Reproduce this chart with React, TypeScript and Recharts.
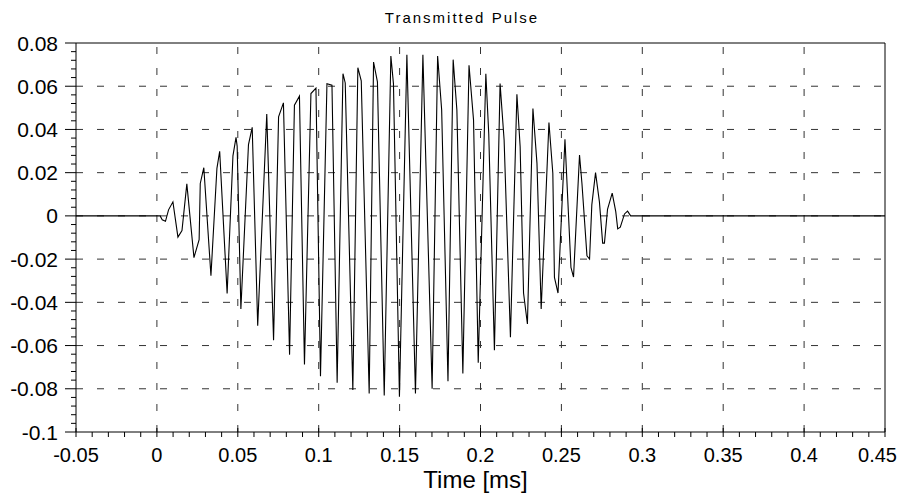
import React from "react";
import { LineChart, Line, XAxis, YAxis, ReferenceLine } from "recharts";

// sample times [ms] and amplitudes
const timeMs = [
  -0.05, 0.002, 0.0033, 0.0053, 0.0072, 0.0099, 0.013, 0.0155, 0.0185, 0.0229,
  0.0261, 0.0268, 0.029, 0.0334, 0.0371, 0.0388, 0.0434, 0.047, 0.0489, 0.0496,
  0.0519, 0.0566, 0.0589, 0.0623, 0.0679, 0.0721, 0.0752, 0.0782, 0.082, 0.085,
  0.0881, 0.0912, 0.0952, 0.0983, 0.1011, 0.1051, 0.1082, 0.1114, 0.115, 0.1164,
  0.1211, 0.1242, 0.1263, 0.1312, 0.1339, 0.1363, 0.1405, 0.1446, 0.1462, 0.1499,
  0.1545, 0.1598, 0.1644, 0.1701, 0.1735, 0.176, 0.1799, 0.1831, 0.1854, 0.1891,
  0.1929, 0.1957, 0.1986, 0.2033, 0.2051, 0.2086, 0.2121, 0.2146, 0.2185, 0.2225,
  0.2245, 0.2266, 0.229, 0.2324, 0.2349, 0.2375, 0.2423, 0.2447, 0.2457, 0.2479,
  0.2522, 0.2559, 0.2575, 0.2612, 0.2627, 0.2658, 0.2674, 0.2688, 0.2711, 0.2735,
  0.2755, 0.2766, 0.2785, 0.2814, 0.2836, 0.2848, 0.2864, 0.289, 0.2909, 0.2928,
  0.45,
];

const amplitude = [
  0, 0, -0.0018, -0.0025, 0.0028, 0.0065, -0.0098, -0.0068, 0.0148, -0.0193,
  -0.011, 0.015, 0.0223, -0.0277, 0.022, 0.0299, -0.0359, 0.0278, 0.0363, 0.0323,
  -0.0431, 0.033, 0.041, -0.0508, 0.0471, -0.0575, 0.0458, 0.0523, -0.0642, 0.0512,
  0.0554, -0.0688, 0.0566, 0.0591, -0.0742, 0.0612, 0.0605, -0.0772, 0.0658, 0.0615,
  -0.0806, 0.0686, 0.0625, -0.0822, 0.0712, 0.062, -0.0831, 0.074, 0.0612, -0.0837,
  0.0745, -0.0822, 0.0745, -0.08, 0.074, 0.049, -0.0765, 0.0723, 0.049, -0.0729,
  0.0697, 0.0443, -0.068, 0.0658, 0.038, -0.0622, 0.0612, 0.035, -0.0562, 0.0563,
  0.032, -0.0357, -0.05, 0.0497, 0.0243, -0.0431, 0.0432, 0.0197, -0.0285, -0.0357,
  0.0355, -0.0238, -0.0283, 0.0282, 0.015, -0.0185, -0.02, 0.0051, 0.02, 0.0065,
  -0.0126, -0.0126, 0.003, 0.0105, 0.002, -0.006, -0.0052, 0.0009, 0.0022, 0,
  0,
];

const xGridLines = [0, 0.05, 0.1, 0.15, 0.2, 0.25, 0.3, 0.35, 0.4];
const yGridLines = [-0.08, -0.06, -0.04, -0.02, 0, 0.02, 0.04, 0.06];

// minor ticks every 0.01 (x) and 0.004 (y)
const xTicks = Array.from({ length: 51 }, (_, i) => Number((-0.05 + i * 0.01).toFixed(2)));
const yTicks = Array.from({ length: 46 }, (_, i) => Number((-0.1 + i * 0.004).toFixed(3)));

const data = timeMs.map((t, i) => ({ t, v: amplitude[i] }));

const FONT = "'Liberation Sans', Arial, sans-serif";

const isMultiple = (v: number, step: number) => Math.abs(v / step - Math.round(v / step)) < 1e-6;

const XTick = (props: any) => {
  const { x, y, payload } = props;
  const major = isMultiple(payload.value, 0.05);
  // the last label is pulled in so it stays inside the page
  const last = payload.value === xTicks[xTicks.length - 1];
  return (
    <g>
      <line x1={x} x2={x} y1={major ? y - 4 : y} y2={y + 5} stroke="#000" />
      {major && (
        <text
          x={last ? x + 12 : x}
          y={y + 30}
          textAnchor={last ? "end" : "middle"}
          fontSize={20}
          fontFamily={FONT}
          fill="#000"
        >
          {String(payload.value)}
        </text>
      )}
    </g>
  );
};

const YTick = (props: any) => {
  const { x, y, payload } = props;
  const major = isMultiple(payload.value, 0.02);
  return (
    <g>
      <line x1={x - (major ? 11 : 5)} x2={x} y1={y} y2={y} stroke="#000" />
      {major && (
        <text x={x - 18} y={y + 7.5} textAnchor="end" fontSize={21} fontFamily={FONT} fill="#000">
          {String(payload.value)}
        </text>
      )}
    </g>
  );
};

export default function App() {
  return (
    <div style={{ position: "relative", width: 897, height: 491 }}>
      <svg
        width={897}
        height={30}
        style={{ position: "absolute", left: 0, top: 0, pointerEvents: "none" }}
      >
        <text x={454} y={15} textAnchor="middle" fontSize={15} letterSpacing={2} fontFamily={FONT} fill="#000">
          Transmitted Pulse
        </text>
      </svg>
      <LineChart width={897} height={491} data={data} margin={{ top: 35, right: 20, bottom: 0, left: 0 }}>
        <XAxis
          dataKey="t"
          type="number"
          domain={[-0.05, 0.45]}
          ticks={xTicks}
          interval={0}
          allowDataOverflow
          height={67}
          tickSize={0}
          tickMargin={0}
          tickLine={false}
          axisLine={{ stroke: "#000" }}
          tick={<XTick />}
          label={{
            value: "Time [ms]",
            content: (p: any) => (
              <text
                x={p.viewBox.x + p.viewBox.width / 2 - 5}
                y={p.viewBox.y + 56}
                textAnchor="middle"
                fontSize={24}
                fontFamily={FONT}
                fill="#000"
              >
                Time [ms]
              </text>
            ),
          }}
        />
        <YAxis
          type="number"
          domain={[-0.1, 0.08]}
          ticks={yTicks}
          interval={0}
          allowDataOverflow
          width={68}
          tickSize={0}
          tickMargin={0}
          tickLine={false}
          axisLine={{ stroke: "#000" }}
          tick={<YTick />}
        />
        {xGridLines.map((v) => (
          <ReferenceLine key={"x" + v} x={v} stroke="#333" strokeDasharray="7 14" />
        ))}
        {yGridLines.map((v) => (
          <ReferenceLine key={"y" + v} y={v} stroke="#333" strokeDasharray="7 14" />
        ))}
        <ReferenceLine y={0.08} stroke="#000" />
        <ReferenceLine x={0.45} stroke="#000" />
        <Line
          type="linear"
          dataKey="v"
          stroke="#000"
          strokeWidth={1.1}
          dot={false}
          isAnimationActive={false}
        />
      </LineChart>
    </div>
  );
}
